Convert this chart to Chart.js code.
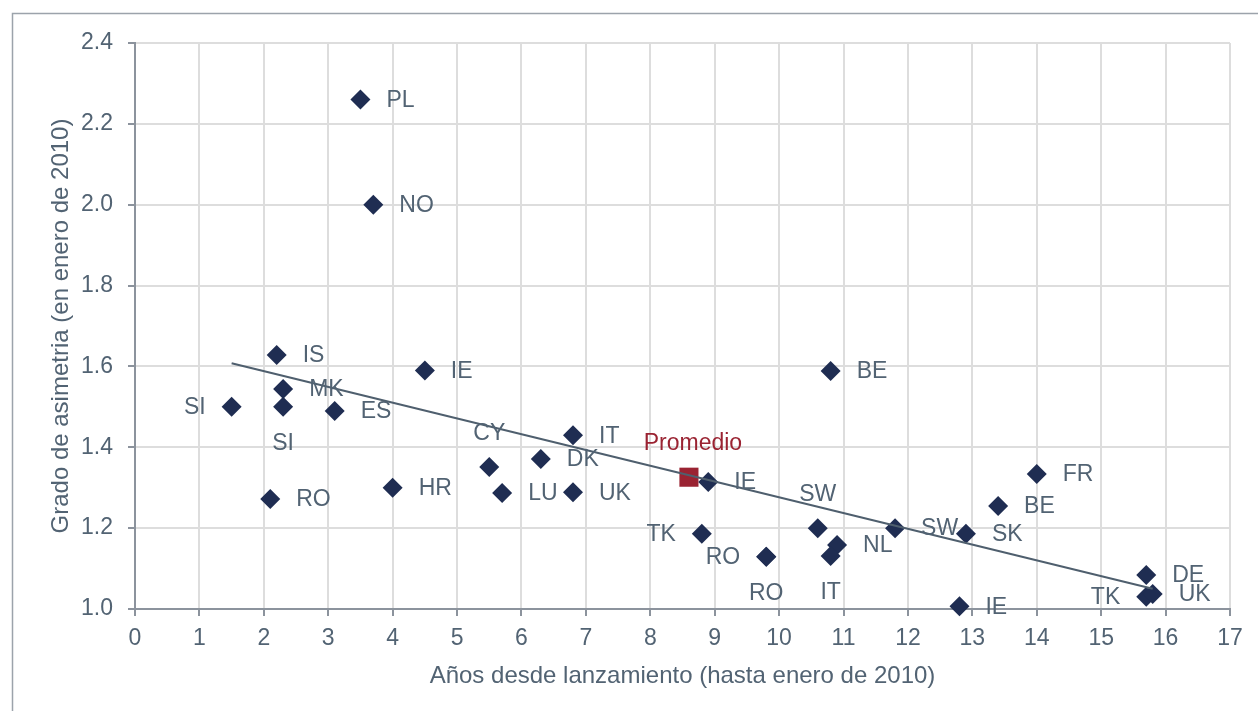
<!DOCTYPE html>
<html>
<head>
<meta charset="utf-8">
<script src="https://cdn.jsdelivr.net/npm/chart.js@4"></script>
<style>
  html, body { margin: 0; padding: 0; background: #fff; }
  #wrap { width: 1258px; height: 711px; position: relative; }
</style>
</head>
<body>
<div id="wrap"><canvas id="asymChart"></canvas></div>
<script>
// países y valores
const countries = ["PL","NO","IS","MK","SI","SI","ES","IE","RO","HR","CY","LU","DK","IT","UK",
  "IE","TK","RO","RO","SW","NL","IT","BE","SW","SK","IE","BE","FR","DE","TK","UK"];
const years = [3.5,3.7,2.2,2.3,1.5,2.3,3.1,4.5,2.1,4.0,5.5,5.7,6.3,6.8,6.8,
  8.9,8.8,9.8,9.8,10.6,10.9,10.8,10.8,11.8,12.9,12.8,13.4,14.0,15.7,15.7,15.8];
const asym = [2.26,2.0,1.628,1.544,1.5,1.5,1.49,1.59,1.272,1.30,1.351,1.287,1.371,1.43,1.289,
  1.314,1.186,1.129,1.129,1.2,1.158,1.131,1.589,1.2,1.186,1.007,1.255,1.334,1.084,1.03,1.037];

const avgYears = [8.6];
const avgAsym = [1.326];

// extremos de la línea de tendencia
const trendYears = [1.5, 15.8];
const trendAsym = [1.608, 1.05];

const xTicks = [0, 17, 1];      // min, max, paso
const yTicks = [1.0, 2.4, 0.2];

// dónde va cada etiqueta: r = derecha, l = izquierda, b = debajo, t = encima
const labelSide = ["r","r","r","r","l","b","r","r","r","r","t","r","r","r","r",
  "r","l","l","b","t","r","b","r","r","r","r","r","r","r","l","r"];

const navy = "#1F2D52";
const slate = "#526373";
const red = "#9A2332";
const FONT = "'Liberation Sans', Arial, sans-serif";

const toXY = (xs, ys) => xs.map((x, i) => ({ x, y: ys[i] }));

const pointLabels = {
  id: "pointLabels",
  afterDatasetsDraw(chart) {
    const ctx = chart.ctx;
    ctx.save();
    ctx.font = "23px " + FONT;
    ctx.textBaseline = "middle";
    const meta = chart.getDatasetMeta(1);
    meta.data.forEach((pt, i) => {
      const side = labelSide[i];
      let x = pt.x, y = pt.y;
      ctx.fillStyle = slate;
      if (side === "r") { ctx.textAlign = "left"; x += 26; }
      else if (side === "l") { ctx.textAlign = "right"; x -= 26; }
      else if (side === "b") { ctx.textAlign = "center"; y += 36; }
      else { ctx.textAlign = "center"; y -= 34; }
      ctx.fillText(countries[i], x, y + 1);
    });
    const avg = chart.getDatasetMeta(2).data[0];
    ctx.fillStyle = red;
    ctx.textAlign = "center";
    ctx.fillText("Promedio", avg.x + 4, avg.y - 34);
    ctx.restore();
  }
};

const frame = {
  id: "frame",
  beforeDraw(chart) {
    const ctx = chart.ctx;
    ctx.save();
    ctx.strokeStyle = "#9CA3AB";
    ctx.lineWidth = 1.5;
    ctx.strokeRect(12.5, 13.5, 1400, 900);
    ctx.restore();
  }
};

new Chart(document.getElementById("asymChart"), {
  type: "scatter",
  data: {
    datasets: [
      {
        type: "line",
        data: toXY(trendYears, trendAsym),
        borderColor: "#4F5F6E",
        borderWidth: 2,
        pointRadius: 0,
        fill: false
      },
      {
        data: toXY(years, asym),
        pointStyle: "rectRot",
        pointRadius: 10,
        pointHoverRadius: 10,
        backgroundColor: navy,
        borderColor: navy,
        borderWidth: 0,
        clip: false
      },
      {
        data: toXY(avgYears, avgAsym),
        pointStyle: "rect",
        pointRadius: 13.5,
        pointHoverRadius: 13.5,
        backgroundColor: red,
        borderColor: red,
        borderWidth: 0
      }
    ]
  },
  options: {
    responsive: true,
    maintainAspectRatio: false,
    animation: false,
    layout: { padding: { top: 43, right: 28, left: 0, bottom: 0 } },
    plugins: {
      legend: { display: false },
      tooltip: { enabled: false }
    },
    scales: {
      x: {
        type: "linear",
        min: xTicks[0],
        max: xTicks[1],
        afterFit: s => { s.height = 102; },
        ticks: {
          stepSize: xTicks[2],
          color: slate,
          font: { family: FONT, size: 23 },
          padding: 9
        },
        grid: { color: "#DDDDDD", lineWidth: 2, tickColor: "#8C939D", tickLength: 7 },
        border: { color: "#8C939D", width: 2 },
        title: {
          display: true,
          text: "Años desde lanzamiento (hasta enero de 2010)",
          color: slate,
          font: { family: FONT, size: 24 },
          padding: { top: 4, bottom: 20 }
        }
      },
      y: {
        min: yTicks[0],
        max: yTicks[1],
        afterFit: s => { s.width = 135; },
        ticks: {
          stepSize: yTicks[2],
          color: slate,
          font: { family: FONT, size: 23 },
          padding: 15,
          callback: v => v.toFixed(1)
        },
        grid: { color: "#DDDDDD", lineWidth: 2, tickColor: "#8C939D", tickLength: 7 },
        border: { color: "#8C939D", width: 2 },
        title: {
          display: true,
          text: "Grado de asimetria (en enero de 2010)",
          color: slate,
          font: { family: FONT, size: 24 },
          padding: { top: 47, bottom: 4 }
        }
      }
    }
  },
  plugins: [frame, pointLabels]
});
</script>
</body>
</html>
